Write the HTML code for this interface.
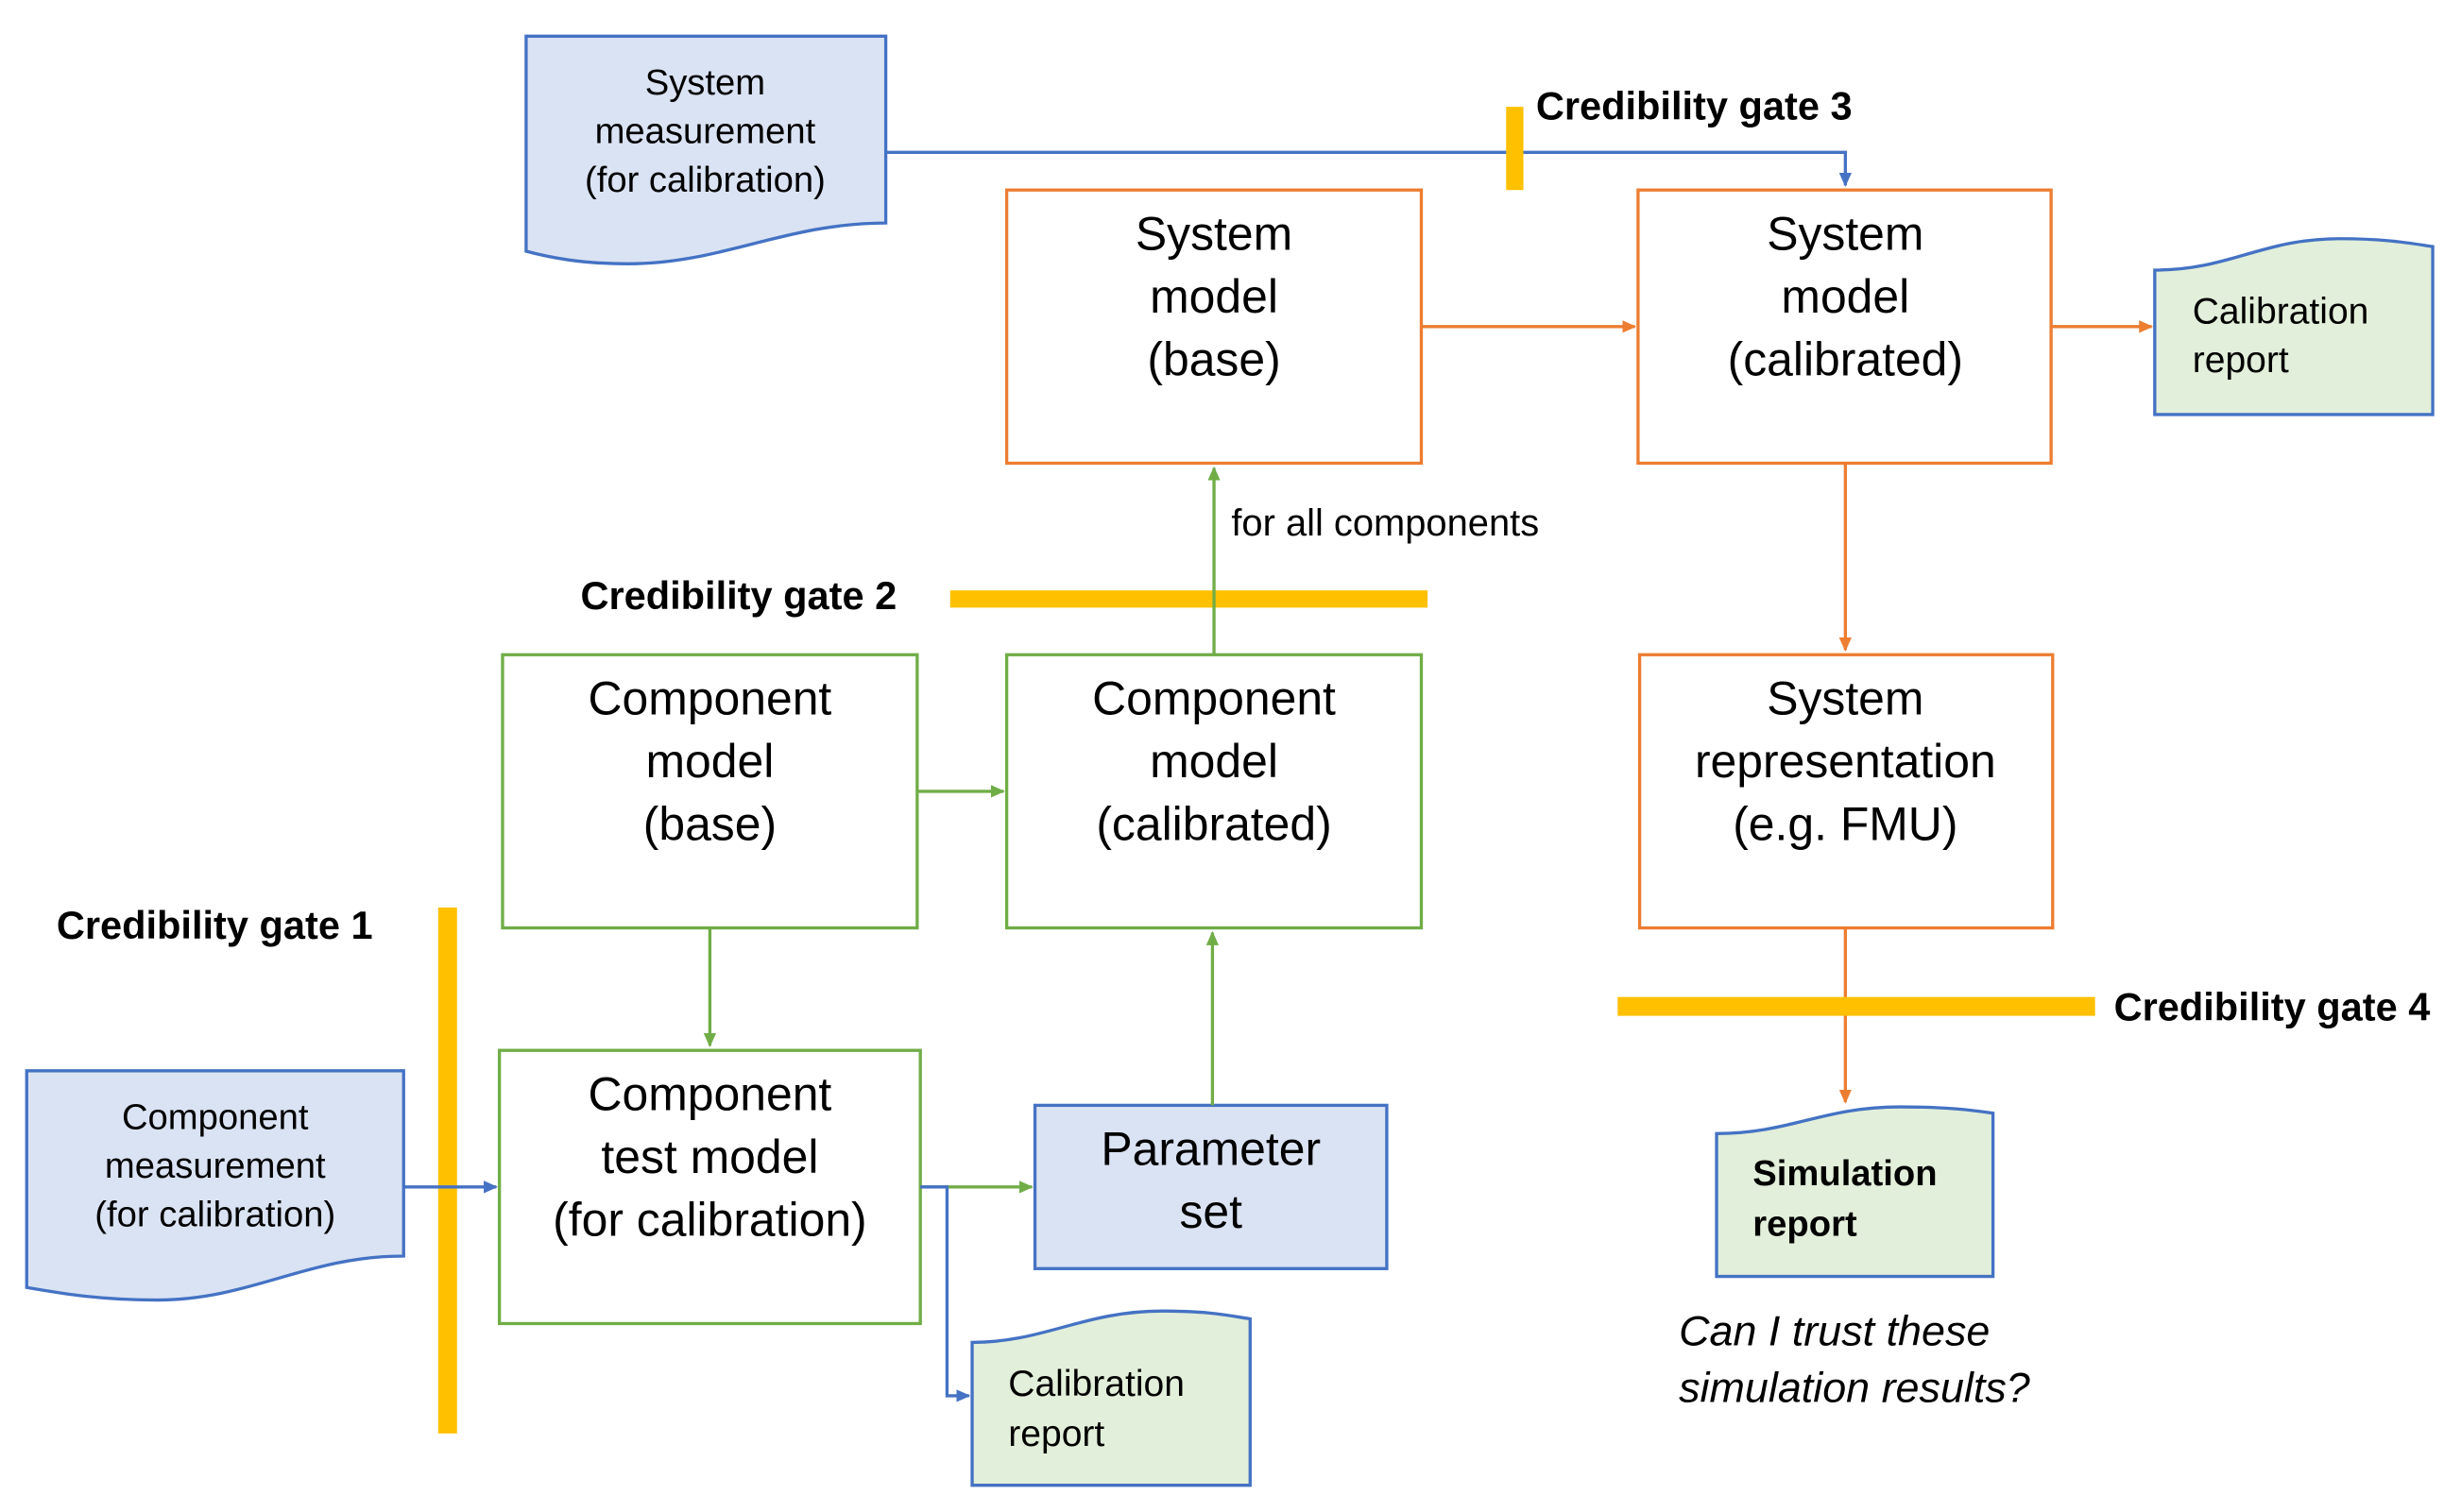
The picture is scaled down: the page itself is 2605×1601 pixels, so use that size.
<!DOCTYPE html>
<html><head><meta charset="utf-8"><style>
html,body{margin:0;padding:0;background:#fff;}
svg{display:block;}
text{font-family:"Liberation Sans",sans-serif;fill:#000;}
</style></head><body>
<svg width="2605" height="1601" viewBox="0 0 1567 963" xmlns="http://www.w3.org/2000/svg">
<defs>
<marker id="ab" markerWidth="10" markerHeight="10" refX="8" refY="5" orient="auto" markerUnits="userSpaceOnUse"><path d="M0,1 L9,5 L0,9 z" fill="#4472c4"/></marker>
<marker id="ao" markerWidth="10" markerHeight="10" refX="8" refY="5" orient="auto" markerUnits="userSpaceOnUse"><path d="M0,1 L9,5 L0,9 z" fill="#ed7d31"/></marker>
<marker id="ag" markerWidth="10" markerHeight="10" refX="8" refY="5" orient="auto" markerUnits="userSpaceOnUse"><path d="M0,1 L9,5 L0,9 z" fill="#70ad47"/></marker>
</defs>

<path d="M335,23 H564 V142 C500,142 460,168 400,168 C370,168 350,164 335,160 Z" fill="#dae3f3" stroke="#4472c4" stroke-width="2"/>
<text x="449" y="60" font-size="23" text-anchor="middle">System</text>
<text x="449" y="91" font-size="23" text-anchor="middle">measurement</text>
<text x="449" y="122" font-size="23" text-anchor="middle">(for calibration)</text>
<path d="M564,97 H1175 V118" fill="none" stroke="#4472c4" stroke-width="2" marker-end="url(#ab)"/>

<rect x="959" y="68" width="11" height="53" fill="#ffc000"/>
<text x="978" y="76" font-size="25" font-weight="bold">Credibility gate 3</text>

<rect x="641" y="121" width="264" height="174" fill="#fff" stroke="#ed7d31" stroke-width="2"/>
<text x="773" y="159" font-size="30" text-anchor="middle">System</text>
<text x="773" y="199" font-size="30" text-anchor="middle">model</text>
<text x="773" y="239" font-size="30" text-anchor="middle">(base)</text>
<path d="M905,208 H1041" stroke="#ed7d31" stroke-width="2" marker-end="url(#ao)"/>

<rect x="1043" y="121" width="263" height="174" fill="#fff" stroke="#ed7d31" stroke-width="2"/>
<text x="1175" y="159" font-size="30" text-anchor="middle">System</text>
<text x="1175" y="199" font-size="30" text-anchor="middle">model</text>
<text x="1175" y="239" font-size="30" text-anchor="middle">(calibrated)</text>
<path d="M1306,208 H1370" stroke="#ed7d31" stroke-width="2" marker-end="url(#ao)"/>

<path d="M1372,172 C1420,172 1440,152 1490,152 C1520,152 1535,155 1549,157 V264 H1372 Z" fill="#e2efda" stroke="#4472c4" stroke-width="2"/>
<text x="1396" y="206" font-size="23.5">Calibration</text>
<text x="1396" y="237" font-size="23.5">report</text>

<path d="M1175,295 V414" stroke="#ed7d31" stroke-width="2" marker-end="url(#ao)"/>

<rect x="1044" y="417" width="263" height="174" fill="#fff" stroke="#ed7d31" stroke-width="2"/>
<text x="1175" y="455" font-size="30" text-anchor="middle">System</text>
<text x="1175" y="495" font-size="30" text-anchor="middle">representation</text>
<text x="1175" y="535" font-size="30" text-anchor="middle">(e.g. FMU)</text>
<path d="M1175,591 V702" stroke="#ed7d31" stroke-width="2" marker-end="url(#ao)"/>

<rect x="1030" y="635" width="304" height="12" fill="#ffc000"/>
<text x="1346" y="650" font-size="25" font-weight="bold">Credibility gate 4</text>

<path d="M1093,722 C1140,722 1160,705 1210,705 C1240,705 1255,707 1269,709 V813 H1093 Z" fill="#e2efda" stroke="#4472c4" stroke-width="2"/>
<text x="1116" y="755" font-size="23" font-weight="bold">Simulation</text>
<text x="1116" y="787" font-size="23" font-weight="bold">report</text>
<text x="1069" y="857" font-size="27" font-style="italic">Can I trust these</text>
<text x="1069" y="893" font-size="27" font-style="italic">simulation results?</text>

<rect x="605" y="376" width="304" height="11" fill="#ffc000"/>
<text x="571" y="388" font-size="25" font-weight="bold" text-anchor="end">Credibility gate 2</text>

<path d="M773,417 V298" stroke="#70ad47" stroke-width="2" marker-end="url(#ag)"/>
<text x="784" y="341" font-size="24">for all components</text>

<rect x="320" y="417" width="264" height="174" fill="#fff" stroke="#70ad47" stroke-width="2"/>
<text x="452" y="455" font-size="30" text-anchor="middle">Component</text>
<text x="452" y="495" font-size="30" text-anchor="middle">model</text>
<text x="452" y="535" font-size="30" text-anchor="middle">(base)</text>
<path d="M584,504 H639" stroke="#70ad47" stroke-width="2" marker-end="url(#ag)"/>

<rect x="641" y="417" width="264" height="174" fill="#fff" stroke="#70ad47" stroke-width="2"/>
<text x="773" y="455" font-size="30" text-anchor="middle">Component</text>
<text x="773" y="495" font-size="30" text-anchor="middle">model</text>
<text x="773" y="535" font-size="30" text-anchor="middle">(calibrated)</text>

<path d="M452,591 V666" stroke="#70ad47" stroke-width="2" marker-end="url(#ag)"/>

<rect x="318" y="669" width="268" height="174" fill="#fff" stroke="#70ad47" stroke-width="2"/>
<text x="452" y="707" font-size="30" text-anchor="middle">Component</text>
<text x="452" y="747" font-size="30" text-anchor="middle">test model</text>
<text x="452" y="787" font-size="30" text-anchor="middle">(for calibration)</text>
<path d="M586,756 H657" stroke="#70ad47" stroke-width="2" marker-end="url(#ag)"/>

<rect x="659" y="704" width="224" height="104" fill="#dae3f3" stroke="#4472c4" stroke-width="2"/>
<text x="771" y="742" font-size="30" text-anchor="middle">Parameter</text>
<text x="771" y="782" font-size="30" text-anchor="middle">set</text>
<path d="M772,704 V594" stroke="#70ad47" stroke-width="2" marker-end="url(#ag)"/>

<path d="M586,756 H603 V889 H617" fill="none" stroke="#4472c4" stroke-width="2" marker-end="url(#ab)"/>

<path d="M619,855 C665,855 690,835 740,835 C770,835 783,838 796,840 V946 H619 Z" fill="#e2efda" stroke="#4472c4" stroke-width="2"/>
<text x="642" y="889" font-size="23.5">Calibration</text>
<text x="642" y="921" font-size="23.5">report</text>

<rect x="279" y="578" width="12" height="335" fill="#ffc000"/>
<text x="36" y="598" font-size="25" font-weight="bold">Credibility gate 1</text>

<path d="M17,682 H257 V800 C195,800 160,828 100,828 C60,828 35,823 17,820 Z" fill="#dae3f3" stroke="#4472c4" stroke-width="2"/>
<text x="137" y="719" font-size="23" text-anchor="middle">Component</text>
<text x="137" y="750" font-size="23" text-anchor="middle">measurement</text>
<text x="137" y="781" font-size="23" text-anchor="middle">(for calibration)</text>
<path d="M257,756 H316" stroke="#4472c4" stroke-width="2" marker-end="url(#ab)"/>
</svg>
</body></html>
